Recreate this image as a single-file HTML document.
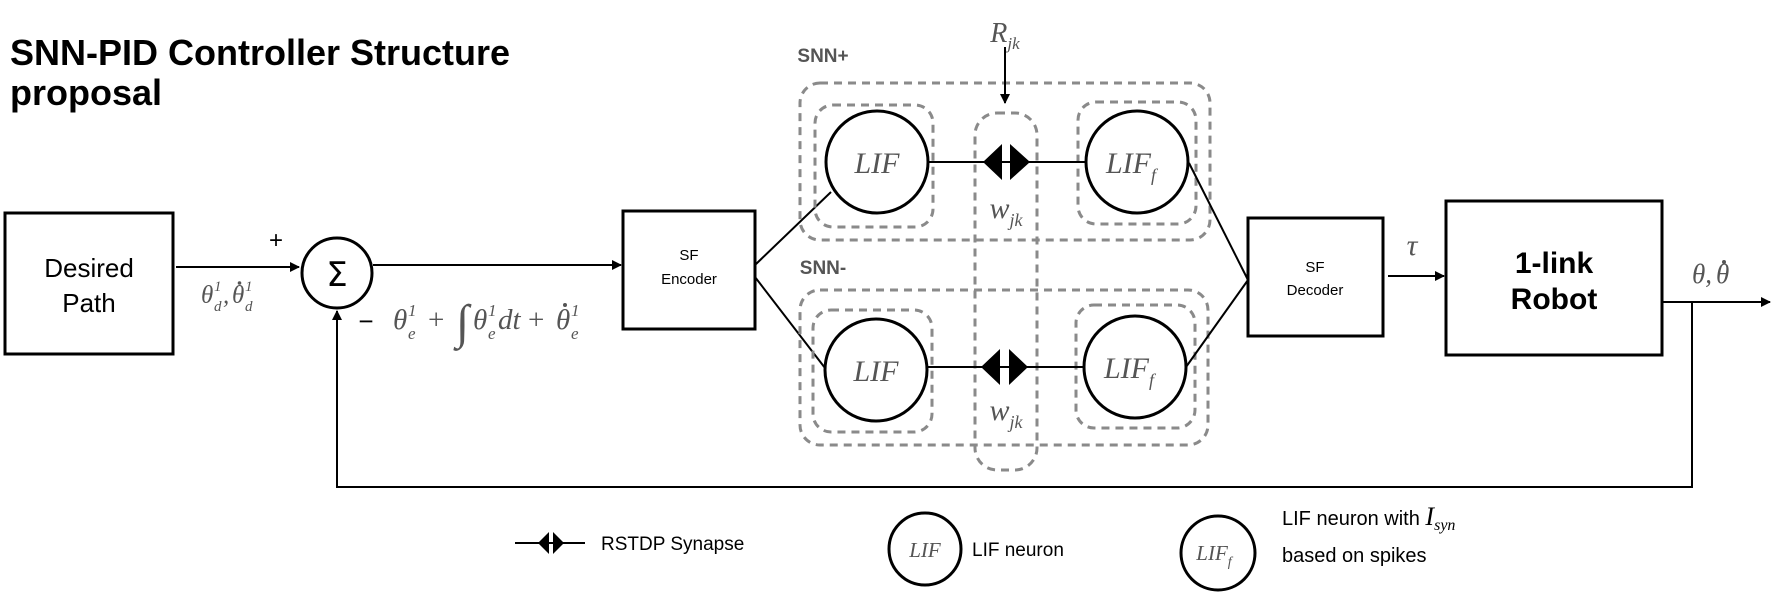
<!DOCTYPE html>
<html><head><meta charset="utf-8"><style>
html,body{margin:0;padding:0;background:#fff;}
svg{display:block;}
.s{font-family:"Liberation Sans",sans-serif;fill:#000;}
.m{font-family:"Liberation Serif",serif;font-style:italic;fill:#555;}
.d{fill:none;stroke:#8a8a8a;stroke-width:3;stroke-dasharray:8 6;}
</style></head><body>
<svg width="1772" height="595" viewBox="0 0 1772 595" xmlns="http://www.w3.org/2000/svg">
<defs>
<marker id="ah" markerWidth="10" markerHeight="10" refX="9" refY="5" orient="auto" markerUnits="userSpaceOnUse">
<path d="M0,0 L10,5 L0,10 z" fill="#000"/></marker>
</defs>
<text class="s" x="10" y="65" font-size="36" font-weight="bold">SNN-PID Controller Structure</text>
<text class="s" x="10" y="105" font-size="36" font-weight="bold">proposal</text>

<!-- Desired path -->
<rect x="5" y="213" width="168" height="141" fill="none" stroke="#000" stroke-width="3"/>
<text class="s" x="89" y="277" font-size="26" text-anchor="middle">Desired</text>
<text class="s" x="89" y="312" font-size="26" text-anchor="middle">Path</text>
<line x1="176" y1="267" x2="299" y2="267" stroke="#000" stroke-width="2" marker-end="url(#ah)"/>
<text class="s" x="276" y="248" font-size="24" text-anchor="middle">+</text>
<g class="m">
<text x="201" y="303" font-size="25">θ</text>
<text x="214" y="311" font-size="15">d</text>
<text x="214" y="291" font-size="15">1</text>
<text x="223" y="303" font-size="25">,</text>
<text x="232" y="303" font-size="25">θ</text>
<circle cx="239.5" cy="283" r="1.8" fill="#555"/>
<text x="245" y="311" font-size="15">d</text>
<text x="245" y="291" font-size="15">1</text>
</g>

<!-- Sigma -->
<circle cx="337" cy="273" r="35" fill="none" stroke="#000" stroke-width="3"/>
<text x="337" y="286" font-family="'DejaVu Sans',sans-serif" font-size="34" text-anchor="middle">Σ</text>
<text class="s" x="366" y="330" font-size="26" text-anchor="middle">−</text>
<line x1="373" y1="265" x2="621" y2="265" stroke="#000" stroke-width="2" marker-end="url(#ah)"/>
<g class="m">
<text x="393" y="329" font-size="29">θ</text>
<text x="408" y="339" font-size="17">e</text>
<text x="408" y="316" font-size="17">1</text>
<text x="428" y="329" font-size="29" font-style="normal">+</text>
<text x="456" y="338" font-size="48">∫</text>
<text x="473" y="329" font-size="29">θ</text>
<text x="488" y="339" font-size="17">e</text>
<text x="488" y="316" font-size="17">1</text>
<text x="498" y="329" font-size="29">dt</text>
<text x="528" y="329" font-size="29" font-style="normal">+</text>
<text x="556" y="329" font-size="29">θ</text>
<circle cx="565" cy="305" r="2" fill="#555"/>
<text x="571" y="339" font-size="17">e</text>
<text x="571" y="316" font-size="17">1</text>
</g>

<!-- Encoder -->
<rect x="623" y="211" width="132" height="118" fill="none" stroke="#000" stroke-width="3"/>
<text class="s" x="689" y="260" font-size="15" text-anchor="middle">SF</text>
<text class="s" x="689" y="284" font-size="15" text-anchor="middle">Encoder</text>
<line x1="755" y1="265" x2="831" y2="192" stroke="#000" stroke-width="2"/>
<line x1="755" y1="277" x2="825" y2="368" stroke="#000" stroke-width="2"/>

<!-- SNN+ -->
<text x="823" y="62" font-family="'Liberation Sans',sans-serif" font-weight="bold" font-size="19" fill="#555" text-anchor="middle">SNN+</text>
<rect class="d" x="800" y="83" width="410" height="157" rx="20"/>
<rect class="d" x="815" y="105" width="118" height="122" rx="18"/>
<rect class="d" x="1078" y="102" width="118" height="122" rx="18"/>
<rect class="d" x="975" y="113" width="62" height="357" rx="22"/>
<text class="m" x="1005" y="42" font-size="28" text-anchor="middle">R<tspan font-size="17" dy="7">jk</tspan></text>
<line x1="1005" y1="47" x2="1005" y2="103" stroke="#000" stroke-width="2" marker-end="url(#ah)"/>
<circle cx="877" cy="162" r="51" fill="#fff" stroke="#000" stroke-width="3"/>
<text class="m" x="877" y="173" font-size="30" text-anchor="middle">LIF</text>
<line x1="928" y1="162" x2="1086" y2="162" stroke="#000" stroke-width="2"/>
<path d="M983,162 L1002,144 L1002,180 z M1030,162 L1010,144 L1010,180 z" fill="#000"/>
<circle cx="1137" cy="162" r="51" fill="#fff" stroke="#000" stroke-width="3"/>
<text class="m" x="1131" y="173" font-size="30" text-anchor="middle">LIF<tspan font-size="18" dy="8">f</tspan></text>
<text class="m" x="1006" y="218" font-size="30" text-anchor="middle">w<tspan font-size="18" dy="8">jk</tspan></text>

<!-- SNN- -->
<text x="823" y="274" font-family="'Liberation Sans',sans-serif" font-weight="bold" font-size="19" fill="#555" text-anchor="middle">SNN-</text>
<rect class="d" x="800" y="290" width="408" height="155" rx="20"/>
<rect class="d" x="813" y="310" width="119" height="122" rx="18"/>
<rect class="d" x="1076" y="305" width="119" height="123" rx="18"/>
<circle cx="876" cy="370" r="51" fill="#fff" stroke="#000" stroke-width="3"/>
<text class="m" x="876" y="381" font-size="30" text-anchor="middle">LIF</text>
<line x1="927" y1="367" x2="1084" y2="367" stroke="#000" stroke-width="2"/>
<path d="M981,367 L1000,349 L1000,385 z M1028,367 L1009,349 L1009,385 z" fill="#000"/>
<circle cx="1135" cy="367" r="51" fill="#fff" stroke="#000" stroke-width="3"/>
<text class="m" x="1129" y="378" font-size="30" text-anchor="middle">LIF<tspan font-size="18" dy="8">f</tspan></text>
<text class="m" x="1006" y="420" font-size="30" text-anchor="middle">w<tspan font-size="18" dy="8">jk</tspan></text>

<!-- Decoder -->
<line x1="1189" y1="163" x2="1248" y2="280" stroke="#000" stroke-width="2"/>
<line x1="1186" y1="367" x2="1248" y2="280" stroke="#000" stroke-width="2"/>
<rect x="1248" y="218" width="135" height="118" fill="none" stroke="#000" stroke-width="3"/>
<text class="s" x="1315" y="272" font-size="15" text-anchor="middle">SF</text>
<text class="s" x="1315" y="295" font-size="15" text-anchor="middle">Decoder</text>
<text class="m" x="1412" y="255" font-size="30" text-anchor="middle">τ</text>
<line x1="1388" y1="276" x2="1444" y2="276" stroke="#000" stroke-width="2" marker-end="url(#ah)"/>

<!-- Robot -->
<rect x="1446" y="201" width="216" height="154" fill="none" stroke="#000" stroke-width="3"/>
<text class="s" x="1554" y="273" font-size="30" font-weight="bold" text-anchor="middle">1-link</text>
<text class="s" x="1554" y="309" font-size="30" font-weight="bold" text-anchor="middle">Robot</text>
<g class="m">
<text x="1692" y="283" font-size="27">θ,</text>
<text x="1716" y="283" font-size="27">θ</text>
<circle cx="1724" cy="262" r="2" fill="#555"/>
</g>
<line x1="1662" y1="302" x2="1770" y2="302" stroke="#000" stroke-width="2" marker-end="url(#ah)"/>
<polyline points="1692,302 1692,487 337,487 337,311" fill="none" stroke="#000" stroke-width="2" marker-end="url(#ah)"/>

<!-- Legend -->
<line x1="515" y1="543" x2="585" y2="543" stroke="#000" stroke-width="2"/>
<path d="M538,543 L549,532 L549,554 z M564,543 L553,532 L553,554 z" fill="#000"/>
<text class="s" x="601" y="550" font-size="19">RSTDP Synapse</text>
<circle cx="925" cy="549" r="36" fill="none" stroke="#000" stroke-width="3"/>
<text class="m" x="925" y="557" font-size="21" text-anchor="middle">LIF</text>
<text class="s" x="972" y="556" font-size="19">LIF neuron</text>
<circle cx="1218" cy="553" r="37" fill="none" stroke="#000" stroke-width="3"/>
<text class="m" x="1214" y="560" font-size="21" text-anchor="middle">LIF<tspan font-size="14" dy="6">f</tspan></text>
<text class="s" x="1282" y="525" font-size="20">LIF neuron with <tspan font-family="'Liberation Serif',serif" font-style="italic" font-size="26">I</tspan><tspan font-family="'Liberation Serif',serif" font-style="italic" font-size="16" dy="5">syn</tspan></text>
<text class="s" x="1282" y="562" font-size="20">based on spikes</text>
</svg>
</body></html>
